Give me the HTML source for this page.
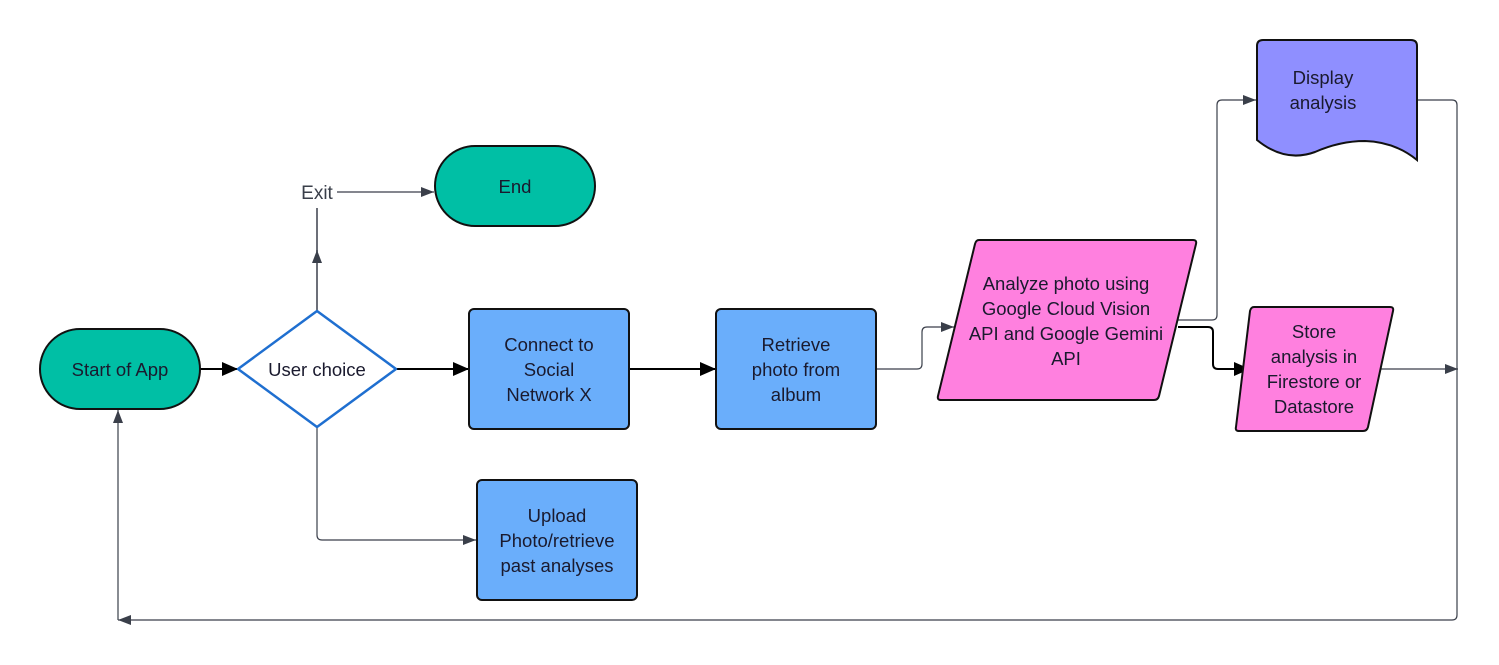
<!DOCTYPE html>
<html><head><meta charset="utf-8"><style>
html,body{margin:0;padding:0;background:#fff;}
svg{display:block;}
text{font-family:"Liberation Sans",sans-serif;font-size:18.5px;fill:#1a1a2e;text-anchor:middle;}
</style></head><body>
<svg width="1499" height="665" viewBox="0 0 1499 665" xmlns="http://www.w3.org/2000/svg">
<defs>
<marker id="ab" markerWidth="16" markerHeight="16" refX="16" refY="8" orient="auto" markerUnits="userSpaceOnUse" viewBox="0 0 16 16"><path d="M0,1 L16,8 L0,15 z" fill="#000"/></marker>
<marker id="ag" markerWidth="13" markerHeight="12" refX="13" refY="6" orient="auto" markerUnits="userSpaceOnUse" viewBox="0 0 13 12"><path d="M0,1 L13,6 L0,11 z" fill="#3a3f4a"/></marker>
</defs>
<g fill="none">
<path d="M200,369 H238" stroke="#000" stroke-width="2" marker-end="url(#ab)"/>
<path d="M396,369 H469" stroke="#000" stroke-width="2" marker-end="url(#ab)"/>
<path d="M629,369 H716" stroke="#000" stroke-width="2" marker-end="url(#ab)"/>
<path d="M1178,327 H1208 Q1213,327 1213,332 V364 Q1213,369 1218,369 H1250" stroke="#000" stroke-width="2" marker-end="url(#ab)"/>
<path d="M317,311 V250" stroke="#3a3f4a" stroke-width="1.5" marker-end="url(#ag)"/>
<path d="M317,252 V208" stroke="#3a3f4a" stroke-width="1.5"/>
<path d="M337,192 H434" stroke="#3a3f4a" stroke-width="1.3" marker-end="url(#ag)"/>
<path d="M317,427 V535 Q317,540 322,540 H476" stroke="#3a3f4a" stroke-width="1.2" marker-end="url(#ag)"/>
<path d="M876,369 H917 Q922,369 922,364 V332 Q922,327 927,327 H954" stroke="#3a3f4a" stroke-width="1.2" marker-end="url(#ag)"/>
<path d="M1178,320 H1212 Q1217,320 1217,315 V105 Q1217,100 1222,100 H1256" stroke="#3a3f4a" stroke-width="1.2" marker-end="url(#ag)"/>
<path d="M1417,100 H1452 Q1457,100 1457,105 V615 Q1457,620 1452,620 H118" stroke="#3a3f4a" stroke-width="1.2" marker-end="url(#ag)"/>
<path d="M118,620 V410" stroke="#3a3f4a" stroke-width="1.2" marker-end="url(#ag)"/>
<path d="M1370,369 H1458" stroke="#3a3f4a" stroke-width="1.2" marker-end="url(#ag)"/>
</g>
<rect x="40" y="329" width="160" height="80" rx="40" fill="#00BFA5" stroke="#111" stroke-width="2"/>
<text x="120" y="376">Start of App</text>
<path d="M317,311 L396,369 L317,427 L238,369 Z" fill="#fff" stroke="#1f6fd0" stroke-width="2.5" stroke-linejoin="round"/>
<text x="317" y="376">User choice</text>
<text x="317" y="199" style="fill:#3a3f4a;font-size:19px">Exit</text>
<rect x="435" y="146" width="160" height="80" rx="40" fill="#00BFA5" stroke="#111" stroke-width="2"/>
<text x="515" y="193">End</text>
<rect x="469" y="309" width="160" height="120" rx="5" fill="#6AAEFB" stroke="#111" stroke-width="2"/>
<text x="549" y="351">Connect to</text><text x="549" y="376">Social</text><text x="549" y="401">Network X</text>
<rect x="716" y="309" width="160" height="120" rx="5" fill="#6AAEFB" stroke="#111" stroke-width="2"/>
<text x="796" y="351">Retrieve</text><text x="796" y="376">photo from</text><text x="796" y="401">album</text>
<rect x="477" y="480" width="160" height="120" rx="5" fill="#6AAEFB" stroke="#111" stroke-width="2"/>
<text x="557" y="522">Upload</text><text x="557" y="547">Photo/retrieve</text><text x="557" y="572">past analyses</text>
<path d="M979,240 H1193 Q1197,240 1196,244 L1159,396 Q1158,400 1154,400 H941 Q937,400 938,396 L975,244 Q976,240 979,240 Z" fill="#FF80DF" stroke="#111" stroke-width="2"/>
<text x="1066" y="290">Analyze photo using</text><text x="1066" y="315">Google Cloud Vision</text><text x="1066" y="340">API and Google Gemini</text><text x="1066" y="365">API</text>
<path d="M1254,307 H1390 Q1394,307 1393,311 L1368,427 Q1367,431 1363,431 H1239 Q1235,431 1236,427 L1250,311 Q1251,307 1254,307 Z" fill="#FF80DF" stroke="#111" stroke-width="2"/>
<text x="1314" y="338">Store</text><text x="1314" y="363">analysis in</text><text x="1314" y="388">Firestore or</text><text x="1314" y="413">Datastore</text>
<path d="M1263,40 H1411 Q1417,40 1417,46 V160 Q1395,142 1365,141 Q1340,141 1315,152 Q1285,163 1257,140 V46 Q1257,40 1263,40 Z" fill="#8F8FFF" stroke="#111" stroke-width="2"/>
<text x="1323" y="84">Display</text><text x="1323" y="109">analysis</text>
</svg>
</body></html>
